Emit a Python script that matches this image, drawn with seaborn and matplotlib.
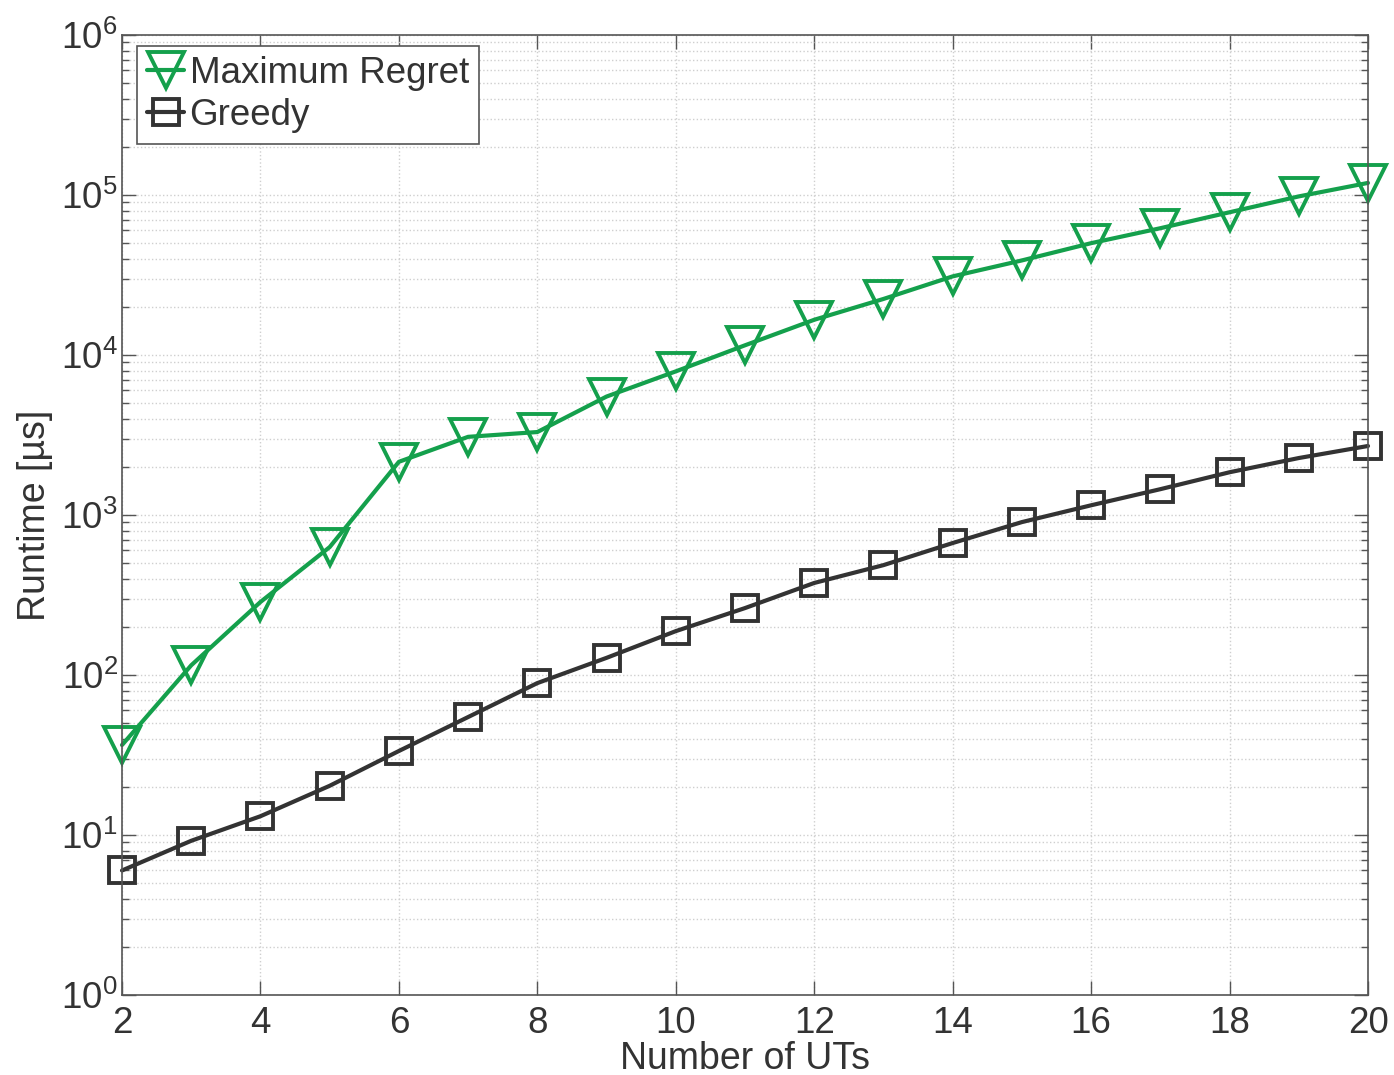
import numpy as np
import pandas as pd
import matplotlib
matplotlib.use("Agg")
import matplotlib.pyplot as plt
import matplotlib.ticker as mticker
import seaborn as sns

num_uts = [2, 3, 4, 5, 6, 7, 8, 9, 10, 11, 12, 13, 14, 15, 16, 17, 18, 19, 20]
max_regret = [36.5, 115, 286, 630, 2150, 3080, 3300, 5500, 7900, 11500, 16600,
              22400, 31000, 39000, 50000, 62000, 78000, 98000, 119000]
greedy = [6.0, 9.2, 13.1, 20.3, 33.5, 54.6, 89, 128, 188, 262, 376, 486, 668,
          903, 1150, 1450, 1850, 2270, 2700]
series_names = ["Maximum Regret", "Greedy"]
x_ticks = [2, 4, 6, 8, 10, 12, 14, 16, 18, 20]

sns.set_theme(style="white")
plt.rcParams['font.family'] = ['Liberation Sans', 'DejaVu Sans']
plt.rcParams['mathtext.fontset'] = 'custom'
plt.rcParams['mathtext.rm'] = 'Liberation Sans'
plt.rcParams['mathtext.it'] = 'Liberation Sans'
plt.rcParams['mathtext.default'] = 'regular'

text_color = '#333333'
green = '#14a04c'
dark = '#333333'

df = pd.DataFrame({
    "UTs": num_uts * 2,
    "Runtime": max_regret + greedy,
    "Method": [series_names[0]] * len(num_uts) + [series_names[1]] * len(num_uts),
})

fig = plt.figure(figsize=(13.94, 10.75), dpi=100)
ax = fig.add_axes([122 / 1394, 1 - 995 / 1075, (1368 - 122) / 1394, (995 - 35) / 1075])

sns.lineplot(data=df[df.Method == series_names[0]], x="UTs", y="Runtime", ax=ax,
             color=green, lw=3, marker='v', markersize=26, markerfacecolor='none',
             markeredgecolor=green, markeredgewidth=2.8, label=series_names[0],
             clip_on=False)
sns.lineplot(data=df[df.Method == series_names[1]], x="UTs", y="Runtime", ax=ax,
             color=dark, lw=3, marker='s', markersize=19, markerfacecolor='none',
             markeredgecolor=dark, markeredgewidth=2.8, label=series_names[1],
             clip_on=False)

ax.set_yscale('log')
ax.set_ylim(1, 1e6)
ax.set_xlim(2, 20)
ax.set_xticks(x_ticks)
ax.set_xticklabels([str(t) for t in x_ticks])
ax.yaxis.set_major_locator(mticker.LogLocator(base=10, numticks=10))
ax.yaxis.set_minor_locator(mticker.LogLocator(base=10, subs=np.arange(2, 10), numticks=100))
ax.yaxis.set_major_formatter(mticker.LogFormatterMathtext())
ax.yaxis.set_minor_formatter(mticker.NullFormatter())

ax.grid(True, which='major', axis='both', linestyle=':', color='#cfcfcf', lw=1.0)
ax.grid(True, which='minor', axis='y', linestyle=':', color='#cfcfcf', lw=1.0)
ax.set_axisbelow(True)

for sp in ax.spines.values():
    sp.set_color('#555555')
    sp.set_linewidth(1.2)

ax.tick_params(axis='both', which='major', direction='in', length=10, width=1.0,
               colors='#555555', labelcolor=text_color, labelsize=26.5,
               top=True, right=True, bottom=True, left=True, pad=8)
ax.tick_params(axis='y', which='major', pad=3)
ax.tick_params(axis='y', which='minor', direction='in', length=5, width=1.0,
               colors='#555555', left=True, right=True)

ax.set_xlabel("Number of UTs", fontsize=27, color=text_color, labelpad=0)
ax.set_ylabel("Runtime [µs]", fontsize=27, color=text_color, labelpad=6)

leg = ax.legend(loc='upper left', bbox_to_anchor=(0.012, 0.989), fontsize=26.5,
                frameon=True, fancybox=False, framealpha=1, edgecolor='#555555',
                handlelength=1.0, handletextpad=0.15, borderpad=0.28,
                labelspacing=0.2, borderaxespad=0)
leg.get_frame().set_linewidth(1.2)
for t in leg.get_texts():
    t.set_color(text_color)

fig.savefig("out.png", dpi=100)
